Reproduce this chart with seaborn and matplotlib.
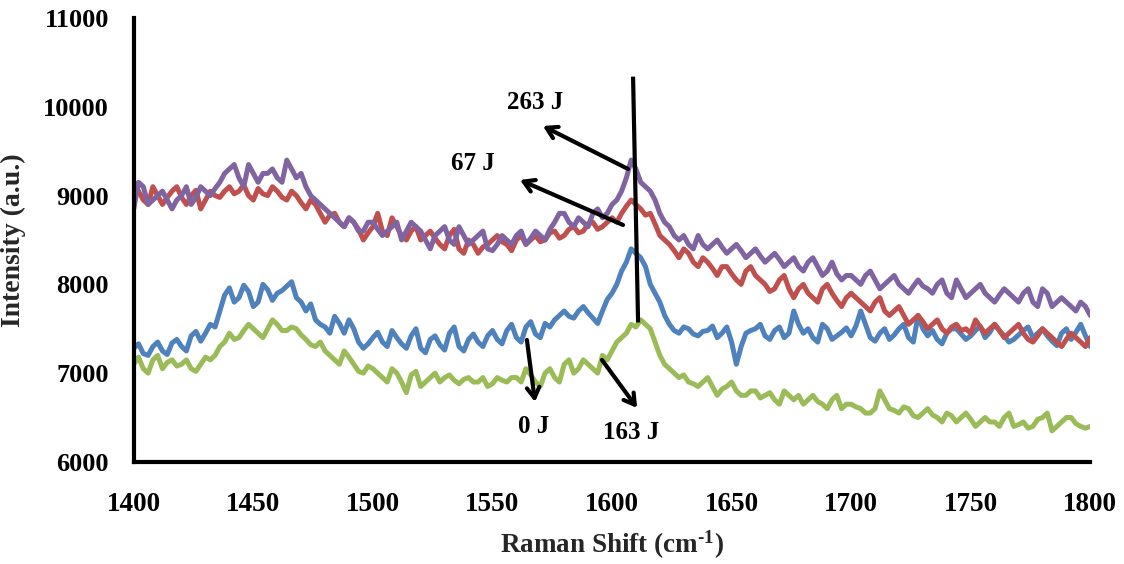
import numpy as np
import pandas as pd
import matplotlib
matplotlib.use("Agg")
import matplotlib.pyplot as plt
import seaborn as sns

shift = list(range(1400, 1801, 2))

i_0J = [7280, 7330, 7220, 7200, 7300, 7350, 7250, 7210, 7340, 7380, 7300, 7250, 7420, 7470, 7360, 7450, 7550, 7520, 7700, 7880,
        7960, 7800, 7850, 7990, 7920, 7750, 7800, 8000, 7940, 7820, 7900, 7930, 7980, 8030, 7850, 7800, 7700, 7780, 7600, 7550,
        7520, 7450, 7640, 7560, 7450, 7600, 7500, 7350, 7280, 7330, 7400, 7460, 7350, 7300, 7480, 7400, 7330, 7280, 7420, 7500,
        7280, 7230, 7380, 7420, 7320, 7260, 7450, 7520, 7300, 7250, 7380, 7440, 7350, 7300, 7420, 7480, 7380, 7330, 7480, 7550,
        7400, 7350, 7520, 7580, 7440, 7400, 7560, 7520, 7600, 7650, 7700, 7640, 7620, 7700, 7750, 7680, 7620, 7560, 7700, 7830,
        7900, 8000, 8150, 8250, 8400, 8350, 8300, 8200, 8000, 7900, 7800, 7650, 7550, 7480, 7450, 7520, 7500, 7440, 7420, 7470,
        7480, 7530, 7400, 7450, 7520, 7350, 7100, 7300, 7450, 7480, 7500, 7550, 7420, 7380, 7480, 7520, 7400, 7450, 7700, 7550,
        7450, 7500, 7400, 7350, 7550, 7500, 7380, 7420, 7460, 7510, 7420, 7530, 7700, 7550, 7400, 7360, 7450, 7500, 7380, 7430,
        7500, 7550, 7400, 7350, 7650, 7500, 7420, 7480, 7380, 7330, 7450, 7500, 7500, 7440, 7380, 7420, 7480, 7530, 7400, 7460,
        7550, 7480, 7420, 7350, 7380, 7430, 7480, 7520, 7400, 7450, 7500, 7420, 7360, 7310, 7450, 7500, 7380, 7460, 7550, 7420,
        7300]

i_67J = [9150, 9050, 8950, 8900, 9100, 9000, 8900, 8980, 9050, 9100, 8980, 8900, 9000, 9060, 8850, 8950, 9050, 9000, 8980, 9050,
         9100, 9020, 9050, 9120, 9000, 8950, 9080, 9020, 9000, 9100, 9050, 8980, 8950, 9050, 9000, 8920, 8850, 8950, 8900, 8800,
         8700, 8780, 8800, 8700, 8650, 8750, 8700, 8620, 8500, 8580, 8650, 8800, 8600, 8550, 8750, 8650, 8550, 8500, 8600, 8650,
         8500, 8550, 8600, 8520, 8450, 8400, 8550, 8620, 8400, 8350, 8500, 8450, 8350, 8420, 8450, 8500, 8550, 8480, 8450, 8380,
         8500, 8550, 8450, 8500, 8550, 8480, 8500, 8580, 8600, 8520, 8550, 8620, 8650, 8580, 8600, 8680, 8700, 8620, 8650, 8700,
         8750, 8700, 8800, 8880, 8950, 8900, 8850, 8780, 8800, 8680, 8550, 8500, 8450, 8380, 8300, 8400, 8350, 8250, 8200, 8300,
         8250, 8180, 8100, 8200, 8200, 8120, 8050, 8000, 8150, 8200, 8100, 8050, 8000, 7920, 7950, 8050, 8100, 7950, 7850, 7950,
         8000, 7900, 7850, 7800, 7950, 8000, 7900, 7820, 7750, 7850, 7900, 7850, 7800, 7750, 7700, 7800, 7850, 7700, 7650, 7700,
         7750, 7650, 7550, 7600, 7650, 7580, 7500, 7550, 7600, 7500, 7450, 7520, 7550, 7480, 7500, 7450, 7600, 7520, 7450, 7500,
         7550, 7480, 7400, 7450, 7500, 7550, 7450, 7380, 7350, 7420, 7500, 7450, 7400, 7350, 7300, 7380, 7450, 7400, 7350, 7300,
         7400]

i_163J = [7100, 7180, 7050, 7000, 7150, 7200, 7050, 7120, 7150, 7080, 7100, 7150, 7050, 7020, 7100, 7180, 7150, 7200, 7300, 7350,
          7450, 7380, 7400, 7480, 7550, 7500, 7450, 7400, 7500, 7600, 7550, 7480, 7480, 7520, 7500, 7430, 7380, 7320, 7300, 7350,
          7250, 7200, 7150, 7100, 7250, 7180, 7100, 7020, 7000, 7080, 7050, 7000, 6950, 6900, 7050, 7000, 6900, 6780, 6980, 7020,
          6850, 6900, 6950, 7000, 6900, 6950, 6980, 6920, 6880, 6930, 6950, 6900, 6900, 6950, 6850, 6880, 6950, 6920, 6900, 6950,
          6950, 6900, 7050, 6980, 6900, 6850, 7000, 7050, 6950, 6900, 7100, 7150, 7000, 7050, 7150, 7100, 7050, 7000, 7200, 7150,
          7250, 7350, 7400, 7450, 7550, 7520, 7600, 7550, 7500, 7350, 7200, 7100, 7050, 7000, 6950, 6980, 6900, 6880, 6850, 6900,
          6950, 6850, 6750, 6820, 6850, 6900, 6800, 6750, 6750, 6800, 6800, 6720, 6750, 6780, 6700, 6650, 6800, 6750, 6700, 6750,
          6650, 6700, 6750, 6680, 6650, 6600, 6700, 6750, 6600, 6650, 6650, 6620, 6600, 6550, 6550, 6600, 6800, 6700, 6600, 6580,
          6550, 6620, 6600, 6520, 6500, 6550, 6600, 6530, 6500, 6450, 6550, 6520, 6450, 6500, 6550, 6480, 6400, 6450, 6500, 6450,
          6450, 6400, 6500, 6550, 6400, 6420, 6450, 6380, 6400, 6480, 6500, 6550, 6350, 6400, 6450, 6500, 6500, 6430, 6400, 6380,
          6400]

i_263J = [8850, 9150, 9100, 8900, 8950, 9000, 9050, 8950, 8850, 8950, 9000, 9100, 8900, 8980, 9100, 9050, 9000, 9080, 9150, 9250,
          9300, 9350, 9200, 9100, 9350, 9250, 9150, 9250, 9250, 9300, 9200, 9150, 9400, 9300, 9200, 9250, 9100, 9000, 8950, 8900,
          8850, 8800, 8750, 8700, 8650, 8750, 8700, 8600, 8600, 8700, 8700, 8620, 8550, 8600, 8650, 8700, 8500, 8600, 8700, 8650,
          8600, 8500, 8400, 8550, 8600, 8650, 8500, 8450, 8650, 8550, 8450, 8500, 8550, 8600, 8400, 8380, 8450, 8550, 8500, 8450,
          8550, 8600, 8450, 8520, 8600, 8550, 8500, 8620, 8700, 8800, 8800, 8700, 8650, 8750, 8700, 8650, 8800, 8850, 8750, 8800,
          8900, 8950, 9050, 9200, 9400, 9300, 9150, 9100, 9050, 8950, 8800, 8700, 8650, 8550, 8500, 8550, 8450, 8400, 8550, 8450,
          8400, 8450, 8500, 8420, 8350, 8400, 8450, 8380, 8300, 8350, 8400, 8320, 8250, 8300, 8350, 8280, 8200, 8250, 8300, 8200,
          8150, 8250, 8300, 8200, 8100, 8150, 8250, 8120, 8050, 8100, 8100, 8050, 8000, 8100, 8150, 8050, 7950, 8000, 8050, 8100,
          8000, 7950, 7900, 7980, 8050, 7980, 7950, 7900, 8000, 8050, 7900, 7850, 8050, 7950, 7850, 7900, 7950, 8000, 7900, 7850,
          7800, 7880, 7950, 7900, 7850, 7800, 7900, 7950, 7800, 7750, 7950, 7900, 7750, 7800, 7850, 7800, 7750, 7700, 7800, 7750,
          7650]

series_names = ["0 J", "67 J", "163 J", "263 J"]
colors = ["#4F81BD", "#C0504D", "#9BBB59", "#8064A2"]

df = pd.concat([
    pd.DataFrame({"shift": shift, "intensity": vals, "energy": name})
    for name, vals in zip(series_names, [i_0J, i_67J, i_163J, i_263J])
])

sns.set_style("white")
plt.rcParams["font.family"] = ["Liberation Serif", "DejaVu Serif"]
plt.rcParams["font.weight"] = "bold"
plt.rcParams["mathtext.fontset"] = "custom"
plt.rcParams["mathtext.rm"] = "Liberation Serif:bold"
plt.rcParams["mathtext.bf"] = "Liberation Serif:bold"
plt.rcParams["mathtext.it"] = "Liberation Serif:bold:italic"

fig = plt.figure(figsize=(11.24, 5.64), dpi=100)
ax = fig.add_axes([0.119, 0.181, 0.851, 0.787])

sns.lineplot(data=df, x="shift", y="intensity", hue="energy",
             hue_order=series_names, palette=colors, linewidth=3.6,
             legend=False, ax=ax, estimator=None)

ax.set_xlim(1400, 1800)
ax.set_ylim(6000, 11000)
ax.set_xticks(range(1400, 1801, 50))
ax.set_yticks(range(6000, 11001, 1000))

for s in ["top", "right"]:
    ax.spines[s].set_visible(False)
for s in ["left", "bottom"]:
    ax.spines[s].set_linewidth(3)
    ax.spines[s].set_color("black")

ax.tick_params(axis="both", direction="in", length=7, width=3, colors="black")
ax.tick_params(axis="x", pad=22, labelsize=19.5)
ax.tick_params(axis="y", pad=18, labelsize=19)
for lab in ax.get_xticklabels() + ax.get_yticklabels():
    lab.set_fontweight("bold")

ax.set_xlabel("Raman Shift (cm$^{\\mathrm{\u2010}1}$)", fontsize=19.5, fontweight="bold", labelpad=8)
ax.set_ylabel("Intensity (a.u.)", fontsize=20, fontweight="bold", labelpad=12)

# peak marker line
ax.plot([1608.8, 1610.9], [10340, 7570], color="black", lw=3, solid_capstyle="butt")

arrow_kw = dict(arrowstyle="->,head_length=0.75,head_width=0.45", lw=3, color="black",
                shrinkA=0, shrinkB=0)
ax.annotate("", xy=(1571.1, 9784), xytext=(1606.7, 9300), arrowprops=arrow_kw)
ax.annotate("", xy=(1561.5, 9176), xytext=(1604.6, 8669), arrowprops=arrow_kw)
ax.annotate("", xy=(1567.8, 6676), xytext=(1564.4, 7374), arrowprops=arrow_kw)
ax.annotate("", xy=(1610.5, 6608), xytext=(1595.8, 7149), arrowprops=arrow_kw)

txt_kw = dict(fontsize=18, fontweight="bold", ha="center", va="center", color="black")
ax.text(1567.8, 10054, "263 J", **txt_kw)
ax.text(1541.8, 9367, "67 J", **txt_kw)
ax.text(1567.0, 6394, "0 J", **txt_kw)
ax.text(1608.0, 6327, "163 J", **txt_kw)

fig.savefig("out.png", dpi=100)
